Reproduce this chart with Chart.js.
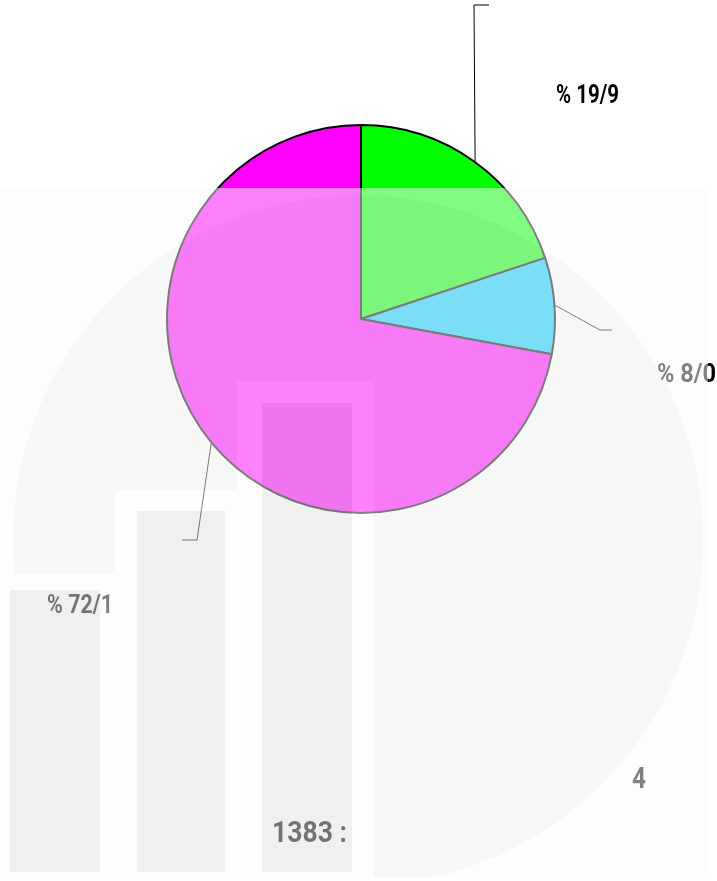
<!DOCTYPE html>
<html>
<head>
<meta charset="utf-8">
<script src="https://cdn.jsdelivr.net/npm/chart.js@4.4.1/dist/chart.umd.min.js"></script>
<style>
  html, body { margin: 0; padding: 0; background: #ffffff; }
  #wrap { width: 717px; height: 881px; position: relative; }
</style>
</head>
<body>
<div id="wrap"><canvas id="myChart"></canvas></div>
<script>
// data
const sliceLabels = ['% 19/9', '% 8/0', '% 72/1']
const sliceValues = [19.9, 8.0, 72.1]
const sliceColors = ['#00ff00', '#00ccff', '#ff00ff']
const pageNumber = '4'
const yearText = '1383 :'

// label leaders: elbow + end of leader line, text anchor and width
const labelLayout = [
  { elbow: [474, 5], end: [489, 5], text: [556, 103], width: 63 },
  { elbow: [600, 330], end: [612, 330], text: [657, 382], width: 59 },
  { elbow: [197, 540], end: [182, 540], text: [47, 613], width: 66 }
]

const labelFont = 'bold 26px Roboto, "DejaVu Sans", sans-serif'
const pageFont = 'bold 30px Roboto, "DejaVu Sans", sans-serif'

// draw condensed text squeezed to a given width
function fitText(ctx, text, x, y, font, width) {
  ctx.save()
  ctx.font = font
  ctx.textAlign = 'left'
  ctx.textBaseline = 'alphabetic'
  const w = ctx.measureText(text).width
  ctx.translate(x, y)
  ctx.scale(width / w, 1)
  ctx.fillText(text, 0, 0)
  ctx.restore()
}

const leaderPlugin = {
  id: 'leaders',
  afterDatasetsDraw(chart) {
    const ctx = chart.ctx
    const meta = chart.getDatasetMeta(0)
    meta.data.forEach((arc, i) => {
      const p = arc.getProps(['x', 'y', 'startAngle', 'endAngle', 'outerRadius'], true)
      const mid = (p.startAngle + p.endAngle) / 2
      const sx = p.x + Math.cos(mid) * (p.outerRadius + 1)
      const sy = p.y + Math.sin(mid) * (p.outerRadius + 1)
      const lay = labelLayout[i]
      ctx.save()
      ctx.strokeStyle = '#000'
      ctx.lineWidth = 1
      ctx.beginPath()
      ctx.moveTo(sx, sy)
      ctx.lineTo(lay.elbow[0], lay.elbow[1])
      ctx.lineTo(lay.end[0], lay.end[1])
      ctx.stroke()
      ctx.fillStyle = '#000'
      fitText(ctx, sliceLabels[i], lay.text[0], lay.text[1], labelFont, lay.width)
      ctx.restore()
    })
  }
}

// faint page watermark laid over the lower part of the chart
const overlayPlugin = {
  id: 'overlay',
  afterDraw(chart) {
    const ctx = chart.ctx
    ctx.save()
    ctx.fillStyle = '#000'
    fitText(ctx, pageNumber, 632, 788, pageFont, 14)
    fitText(ctx, yearText, 272, 842, pageFont, 75)
    ctx.restore()

    const off = document.createElement('canvas')
    off.width = 717
    off.height = 881
    const o = off.getContext('2d')
    o.fillStyle = '#fbfbfb'
    o.fillRect(0, 0, 717, 881)
    o.fillStyle = '#f0f0f0'
    o.beginPath()
    o.arc(358, 540, 345, 0, Math.PI * 2)
    o.fill()
    o.fillStyle = '#fcfcfc'
    o.fillRect(237, 381, 137, 500)
    o.fillRect(115, 490, 125, 391)
    o.fillRect(0, 574, 115, 307)
    o.fillStyle = '#e2e2e2'
    o.fillRect(10, 590, 90, 282)
    o.fillRect(137, 511, 88, 361)
    o.fillRect(262, 403, 90, 469)

    ctx.save()
    ctx.beginPath()
    ctx.rect(0, 188, 708, 689)
    ctx.clip()
    ctx.globalAlpha = 0.51
    ctx.drawImage(off, 0, 0)
    ctx.restore()
  }
}

const data = {
  labels: sliceLabels,
  datasets: [{
    data: sliceValues,
    backgroundColor: sliceColors,
    borderColor: '#000000',
    borderWidth: 2
  }]
}

const config = {
  type: 'pie',
  data: data,
  options: {
    responsive: true,
    maintainAspectRatio: false,
    animation: false,
    events: [],
    layout: {
      padding: { left: 166, right: 161, top: 124, bottom: 367 }
    },
    plugins: {
      legend: { display: false },
      tooltip: { enabled: false },
      title: { display: false }
    }
  },
  plugins: [leaderPlugin, overlayPlugin]
}

let myChart = new Chart(document.getElementById('myChart'), config)
</script>
</body>
</html>
